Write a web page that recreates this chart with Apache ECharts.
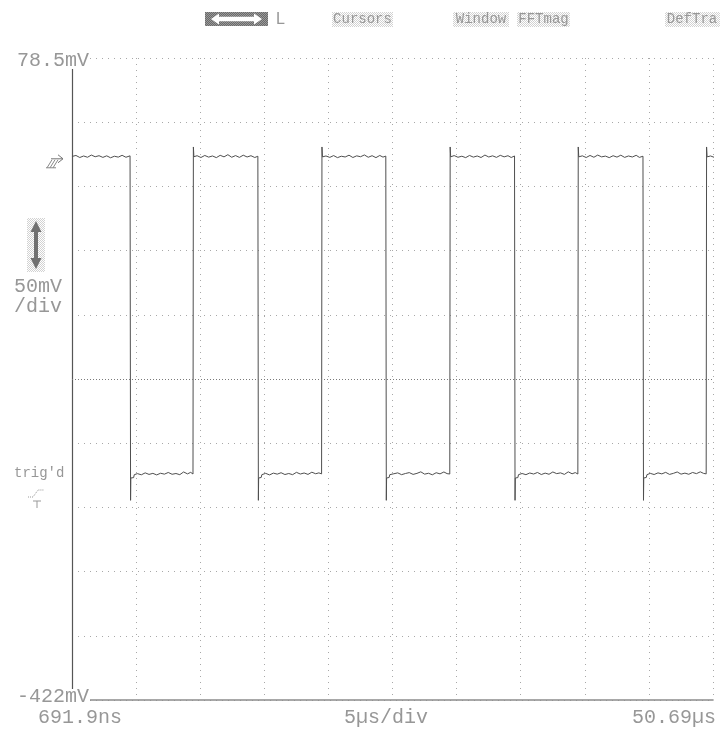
<!DOCTYPE html>
<html><head><meta charset="utf-8">
<script src="https://cdn.jsdelivr.net/npm/echarts@6/dist/echarts.min.js"></script>
<style>html,body{margin:0;padding:0;background:#fff}#c{width:720px;height:730px}</style>
</head><body><div id="c"></div>
<script>
// ---- screen scale (values shown on the scope) ----
const timeStartUs = 0.6919;      // 691.9ns
const timeEndUs = 50.6919;       // 50.69µs
const voltTopMv = 78.5;          // 78.5mV
const voltBottomMv = -421.5;     // -422mV
const centerMv = -171.5;
const groundMv = 0;
const divisions = 10;

// ---- texts ----
const menuItems = ['Cursors', 'Window', 'FFTmag', 'DefTra'];
const topVoltLabel = '78.5mV';
const bottomVoltLabel = '-422mV';
const startTimeLabel = '691.9ns';
const endTimeLabel = '50.69\u00b5s';
const timeDivLabel = '5\u00b5s/div';
const voltDivLabel = ['50mV', '/div'];
const trigLabel = "trig'd";

// ---- trace, [time µs, mV] ----
const cycle1 = [
  [0.69,1.8],[1.0,2.6],[1.3,1.0],[1.6,2.2],[1.9,1.2],[2.2,2.9],[2.5,1.6],[2.8,2.4],[3.1,1.1],[3.4,2.3],[3.7,0.8],[4.0,2.0],[4.3,1.3],[4.6,2.7],[4.9,1.2],[5.22,2.3],
  [5.25,1.5],[5.26,-266],[5.28,-248.6],[5.5,-248.3],[5.55,-246],
  [5.8,-245.2],[6.1,-246.1],[6.4,-244.6],[6.7,-245.8],[7.0,-245.0],[7.3,-246.2],[7.6,-244.9],[7.9,-245.6],[8.2,-244.3],[8.5,-245.7],[8.8,-245.1],[9.1,-246.0],[9.4,-243.9],[9.7,-245.4],[9.95,-244.2],[10.13,-245.5],
  [10.15,-245.5],[10.16,9.2],[10.2,1.6]
];
const cycle2 = [
  [10.45,2.4],[10.75,1.0],[11.05,2.6],[11.35,1.3],[11.65,2.2],[11.95,0.9],[12.25,2.7],[12.55,1.5],[12.85,3.2],[13.15,1.2],[13.45,2.5],[13.75,1.1],[14.05,2.8],[14.35,1.4],[14.65,2.4],[14.95,1.0],[15.19,2.0],
  [15.22,1.5],[15.23,-266],[15.25,-248.6],[15.45,-248.2],[15.5,-246],
  [15.8,-245.0],[16.1,-246.2],[16.4,-244.8],[16.7,-245.6],[17.0,-244.5],[17.3,-245.9],[17.6,-245.1],[17.9,-246.0],[18.2,-244.2],[18.5,-245.5],[18.8,-244.7],[19.1,-245.8],[19.4,-244.1],[19.7,-245.3],[19.95,-244.6],[20.16,-245.4],
  [20.18,-245.4],[20.19,9.2],[20.23,1.5]
];
const cycle3 = [
  [20.5,2.2],[20.8,1.1],[21.1,2.5],[21.4,0.9],[21.7,2.0],[22.0,1.4],[22.3,2.8],[22.6,1.0],[22.9,2.3],[23.2,1.6],[23.5,3.0],[23.8,1.2],[24.1,2.4],[24.4,0.9],[24.7,2.6],[24.95,1.3],[25.17,2.1],
  [25.20,1.5],[25.21,-266],[25.23,-248.6],[25.43,-248.2],[25.48,-246],
  [25.8,-245.3],[26.1,-244.6],[26.4,-246.0],[26.7,-245.1],[27.0,-244.4],[27.3,-245.8],[27.6,-245.0],[27.9,-243.8],[28.2,-245.6],[28.5,-244.9],[28.8,-246.1],[29.1,-244.5],[29.4,-245.4],[29.7,-243.9],[29.95,-245.2],[30.16,-245.5],
  [30.18,-245.5],[30.19,9.2],[30.23,1.5]
];
const cycle4 = [
  [30.5,2.5],[30.8,1.2],[31.1,2.0],[31.4,0.9],[31.7,2.6],[32.0,1.3],[32.3,2.2],[32.6,1.0],[32.9,2.9],[33.2,1.4],[33.5,2.3],[33.8,1.1],[34.1,2.7],[34.4,1.5],[34.7,2.4],[34.95,1.0],[35.21,2.2],
  [35.24,1.5],[35.25,-266],[35.27,-248.6],[35.47,-248.3],[35.52,-246],
  [35.8,-245.1],[36.1,-246.0],[36.4,-244.7],[36.7,-245.5],[37.0,-244.3],[37.3,-245.9],[37.6,-244.8],[37.9,-245.7],[38.2,-243.9],[38.5,-245.2],[38.8,-244.6],[39.1,-245.8],[39.4,-243.8],[39.7,-245.3],[39.95,-244.4],[40.15,-245.5],
  [40.17,-245.5],[40.18,9.2],[40.22,1.5]
];
const cycle5 = [
  [40.5,2.3],[40.8,1.0],[41.1,2.6],[41.4,1.2],[41.7,2.9],[42.0,1.5],[42.3,2.1],[42.6,0.9],[42.9,2.4],[43.2,1.3],[43.5,2.8],[43.8,1.1],[44.1,2.2],[44.4,1.4],[44.7,2.7],[44.95,1.1],[45.23,2.0],
  [45.26,1.5],[45.27,-266],[45.29,-248.6],[45.49,-248.2],[45.54,-246],
  [45.8,-245.0],[46.1,-245.9],[46.4,-244.6],[46.7,-245.4],[47.0,-244.2],[47.3,-245.8],[47.6,-245.0],[47.9,-243.9],[48.2,-245.6],[48.5,-244.8],[48.8,-245.7],[49.1,-244.3],[49.4,-245.2],[49.7,-243.8],[49.95,-245.0],[50.16,-245.4],
  [50.18,-245.4],[50.19,9.2],[50.23,1.5],[50.5,2.2],[50.8,1.1],[51.1,2.0],[51.24,1.6]
];
const trace = [].concat(cycle1, cycle2, cycle3, cycle4, cycle5);

// ---- drawing ----
const MONO = '"Liberation Mono", "DejaVu Sans Mono", monospace';
const TXT = '#979797';
function stipple(bg, fg) {
  const c = document.createElement('canvas'); c.width = 2; c.height = 2;
  const g = c.getContext('2d');
  g.fillStyle = bg; g.fillRect(0, 0, 2, 2);
  g.fillStyle = fg; g.fillRect(0, 0, 1, 1); g.fillRect(1, 1, 1, 1);
  return { image: c, repeat: 'repeat' };
}
const lightDots = stipple('#ffffff', '#d2d2d2');
const darkDots = stipple('#6a6a6a', '#9a9a9a');

const chart = echarts.init(document.getElementById('c'), null, { renderer: 'canvas' });
const gridSplit = { show: true, lineStyle: { color: '#a8a8a8', type: [1, 5], width: 1 } };
chart.setOption({
  animation: false,
  backgroundColor: '#ffffff',
  grid: { left: 72, top: 58, width: 641, height: 642, containLabel: false },
  xAxis: [
    { type: 'value', min: 0, max: divisions, interval: 1,
      axisLine: { show: true, onZero: false, lineStyle: { color: '#8c8c8c', width: 1.6 } },
      axisTick: { show: false }, axisLabel: { show: false }, splitLine: gridSplit },
    { type: 'value', min: timeStartUs, max: timeEndUs, show: false }
  ],
  yAxis: [
    { type: 'value', min: 0, max: divisions, interval: 1,
      axisLine: { show: true, onZero: false, lineStyle: { color: '#555555', width: 1.2 } },
      axisTick: { show: false }, axisLabel: { show: false }, splitLine: gridSplit },
    { type: 'value', min: voltBottomMv, max: voltTopMv, show: false }
  ],
  series: [{
    type: 'line', xAxisIndex: 1, yAxisIndex: 1, data: trace,
    symbol: 'none', showSymbol: false, clip: false, silent: true,
    lineStyle: { color: '#4f4f4f', width: 1 },
    markLine: { symbol: 'none', silent: true, label: { show: false },
      lineStyle: { color: '#7a7a7a', type: [1, 2], width: 1 },
      data: [{ yAxis: centerMv }] }
  }]
});

const gy = chart.convertToPixel({ yAxisIndex: 1 }, groundMv);
const graphic = [
  // menu bar
  { type: 'rect', shape: { x: 205, y: 12, width: 63, height: 14 }, style: { fill: darkDots }, z: 100 },
  { type: 'polygon', shape: { points: [[211,19],[219,13.5],[219,16.8],[254,16.8],[254,13.5],[262,19],[254,24.5],[254,21.2],[219,21.2],[219,24.5]] }, style: { fill: '#ffffff' }, z: 101 },
  { type: 'text', style: { text: 'L', x: 276, y: 19.5, font: '16px "Liberation Sans", sans-serif', fill: TXT, verticalAlign: 'middle' }, z: 101 },
  { type: 'rect', shape: { x: 332, y: 12, width: 61, height: 15 }, style: { fill: lightDots }, z: 100 },
  { type: 'text', style: { text: menuItems[0], x: 362.5, y: 19.5, font: '14px ' + MONO, fill: TXT, align: 'center', verticalAlign: 'middle' }, z: 101 },
  { type: 'rect', shape: { x: 453, y: 12, width: 56, height: 15 }, style: { fill: lightDots }, z: 100 },
  { type: 'text', style: { text: menuItems[1], x: 481, y: 19.5, font: '14px ' + MONO, fill: TXT, align: 'center', verticalAlign: 'middle' }, z: 101 },
  { type: 'rect', shape: { x: 517, y: 12, width: 53, height: 15 }, style: { fill: lightDots }, z: 100 },
  { type: 'text', style: { text: menuItems[2], x: 543.5, y: 19.5, font: '14px ' + MONO, fill: TXT, align: 'center', verticalAlign: 'middle' }, z: 101 },
  { type: 'rect', shape: { x: 665, y: 12, width: 55, height: 15 }, style: { fill: lightDots }, z: 100 },
  { type: 'text', style: { text: menuItems[3], x: 692, y: 19.5, font: '14px ' + MONO, fill: TXT, align: 'center', verticalAlign: 'middle' }, z: 101 },
  // volt labels
  { type: 'rect', shape: { x: 10, y: 52, width: 80, height: 17 }, style: { fill: '#ffffff' }, z: 100 },
  { type: 'text', style: { text: topVoltLabel, x: 89, y: 61, font: '20px ' + MONO, fill: TXT, align: 'right', verticalAlign: 'middle' }, z: 101 },
  { type: 'rect', shape: { x: 10, y: 689, width: 80, height: 16 }, style: { fill: '#ffffff' }, z: 100 },
  { type: 'text', style: { text: bottomVoltLabel, x: 89, y: 697, font: '20px ' + MONO, fill: TXT, align: 'right', verticalAlign: 'middle' }, z: 101 },
  // time labels
  { type: 'text', style: { text: startTimeLabel, x: 38, y: 718, font: '20px ' + MONO, fill: TXT, verticalAlign: 'middle' }, z: 101 },
  { type: 'text', style: { text: timeDivLabel, x: 344, y: 718, font: '20px ' + MONO, fill: TXT, verticalAlign: 'middle' }, z: 101 },
  { type: 'text', style: { text: endTimeLabel, x: 716, y: 718, font: '20px ' + MONO, fill: TXT, align: 'right', verticalAlign: 'middle' }, z: 101 },
  // ground marker
  { type: 'polyline', shape: { points: [[51, gy], [63, gy]] }, style: { stroke: '#777', lineWidth: 1 }, z: 101 },
  { type: 'polyline', shape: { points: [[58, gy - 4], [63, gy], [58, gy + 4]] }, style: { stroke: '#777', lineWidth: 1, fill: null }, z: 101 },
  { type: 'polyline', shape: { points: [[47, gy + 9], [52, gy + 1]] }, style: { stroke: '#888', lineWidth: 1 }, z: 101 },
  { type: 'polyline', shape: { points: [[50, gy + 9], [55, gy + 1]] }, style: { stroke: '#888', lineWidth: 1 }, z: 101 },
  { type: 'polyline', shape: { points: [[53, gy + 9], [58, gy + 1]] }, style: { stroke: '#888', lineWidth: 1 }, z: 101 },
  { type: 'polyline', shape: { points: [[46, gy + 9], [56, gy + 9]] }, style: { stroke: '#888', lineWidth: 1 }, z: 101 },
  // volts/div arrow box
  { type: 'rect', shape: { x: 27, y: 218, width: 18, height: 54 }, style: { fill: lightDots }, z: 100 },
  { type: 'polygon', shape: { points: [[36,221],[41.5,232],[38,232],[38,258],[41.5,258],[36,269],[30.5,258],[34,258],[34,232],[30.5,232]] }, style: { fill: '#707070' }, z: 101 },
  { type: 'text', style: { text: voltDivLabel[0], x: 14, y: 287, font: '20px ' + MONO, fill: TXT, verticalAlign: 'middle' }, z: 101 },
  { type: 'text', style: { text: voltDivLabel[1], x: 14, y: 307, font: '20px ' + MONO, fill: TXT, verticalAlign: 'middle' }, z: 101 },
  // trigger
  { type: 'text', style: { text: trigLabel, x: 14, y: 473, font: '14px ' + MONO, fill: TXT, verticalAlign: 'middle' }, z: 101 },
  { type: 'polyline', shape: { points: [[28, 497], [33, 497], [38, 490], [44, 490]] }, style: { stroke: '#999', lineWidth: 1, fill: null, lineDash: [1, 1] }, z: 101 },
  { type: 'polyline', shape: { points: [[33, 501], [41, 501]] }, style: { stroke: '#999', lineWidth: 1 }, z: 101 },
  { type: 'polyline', shape: { points: [[37, 501], [37, 508]] }, style: { stroke: '#999', lineWidth: 1 }, z: 101 }
];
chart.setOption({ graphic: graphic });
</script></body></html>
